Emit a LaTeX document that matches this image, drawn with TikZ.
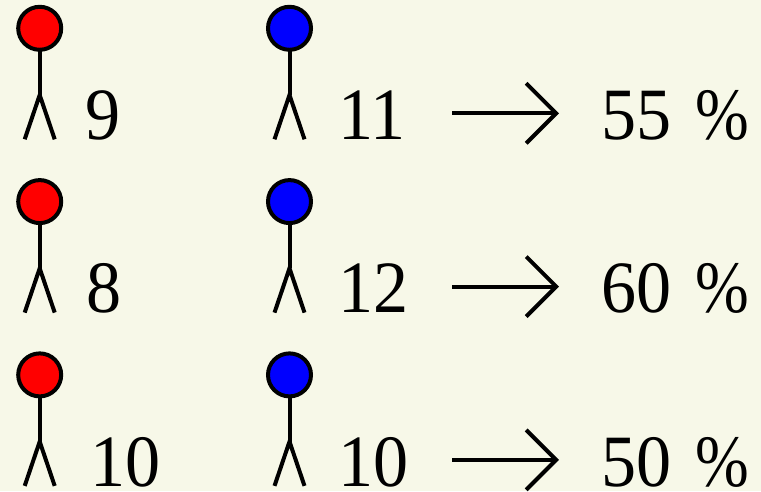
\documentclass[tikz,border=0pt]{standalone}
\usepackage{fontspec}
\setmainfont[FakeStretch=0.95]{Liberation Serif}
\definecolor{paper}{RGB}{247, 248, 232}
\usetikzlibrary{positioning, arrows.meta}

\begin{document}
\begin{tikzpicture}[
    x=0.02cm, y=-0.02cm,
    head/.style={circle, draw=black, line width=0.08cm, minimum size=0.86cm,
                 inner sep=0pt, outer sep=0pt},
    limb/.style={line width=0.08cm, black},
    count/.style={anchor=base west, inner sep=0pt, font=\fontsize{42}{42}\selectfont},
    arrow/.style={-{Straight Barb[length=0.6cm, width=1.2cm, line width=0.08cm]}, line width=0.08cm, black},
  ]
    \fill[paper] (0,0) rectangle (761,491);

    \foreach \row/\ytop/\nred/\xred/\nblue/\xblue/\share in
        {a/0/9/85/11/338/55, b/173.3/8/86/12/338/60, c/346.6/10/90/10/338/50} {
      % one red and one blue figure per row
      \foreach \side/\xpos/\col in {L/39.7/red, R/289.5/blue} {
        \node[head, fill=\col] (head\row\side) at (\xpos,28.3+\ytop) {};
        \coordinate (hip\row\side) at (\xpos,95+\ytop);
        \coordinate (footA\row\side) at (\xpos-15,139.3+\ytop);
        \coordinate (footB\row\side) at (\xpos+15,139.3+\ytop);
        \draw[limb] (head\row\side.south) -- (hip\row\side);
        \draw[limb] (footA\row\side) -- (hip\row\side) -- (footB\row\side);
      }
      \node[count] (red\row) at (\xred,139.5+\ytop) {\nred};
      \node[count] (blue\row) at (\xblue,139.5+\ytop) {\nblue};
      \node[count] (share\row) at (601,139.5+\ytop) {\share\hspace{0.32em}\scalebox{0.92}[1]{\%}};
      \coordinate (from\row) at (452,113.3+\ytop);
      \coordinate (to\row) at (559,113.3+\ytop);
      \draw[arrow] (from\row) -- (to\row);
    }
  \end{tikzpicture}
\end{document}
